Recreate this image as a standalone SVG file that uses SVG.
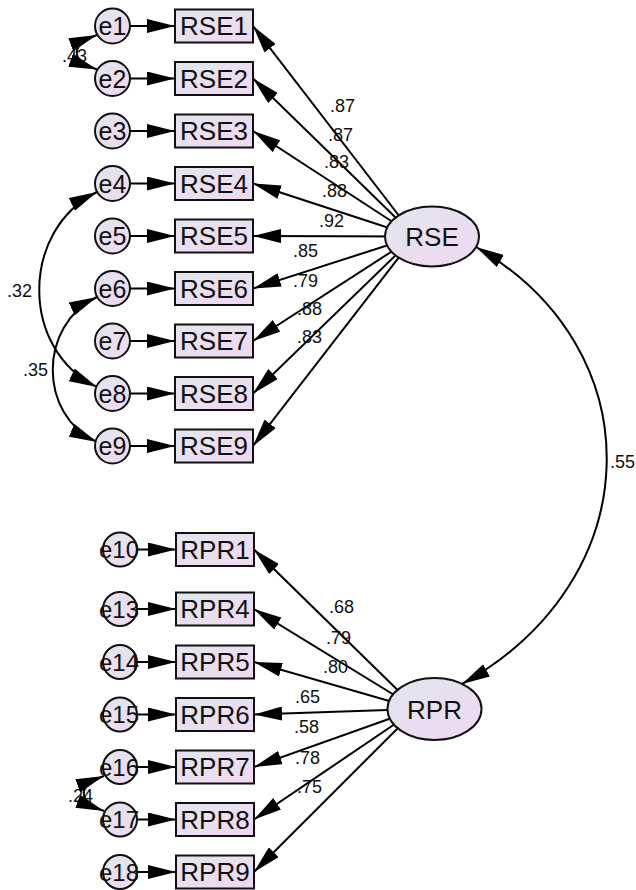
<svg xmlns="http://www.w3.org/2000/svg" width="636" height="890" viewBox="0 0 636 890">
<defs>
<linearGradient id="g" x1="0" y1="0" x2="1" y2="1">
<stop offset="0" stop-color="#e2e6ee"/>
<stop offset="1" stop-color="#f0d8f2"/>
</linearGradient>
<marker id="ah" markerUnits="userSpaceOnUse" markerWidth="28" markerHeight="14" refX="28" refY="7" orient="auto-start-reverse" viewBox="0 0 28 14">
<path d="M0,0 L28,7 L0,14 z" fill="#000"/>
</marker>
<style>
.n{fill:url(#g);stroke:#111;stroke-width:2}
.t{font-family:"Liberation Sans",Arial,sans-serif;font-size:26px;fill:#111;text-anchor:middle}
.te{font-family:"Liberation Sans",Arial,sans-serif;font-size:25px;fill:#111;text-anchor:middle}
.te2{font-family:"Liberation Sans",Arial,sans-serif;font-size:24px;fill:#111;text-anchor:middle}
.l{font-family:"Liberation Sans",Arial,sans-serif;font-size:18px;fill:#111}
.c{fill:none;stroke:#000;stroke-width:2;marker-end:url(#ah)}
.d{fill:none;stroke:#000;stroke-width:2;marker-start:url(#ah);marker-end:url(#ah)}
</style>
</defs>
<rect width="636" height="890" fill="#fff"/>
<g id="connectors">
<g id="labels">
<text class="l" x="62" y="62">.43</text>
<text class="l" x="68" y="802">.24</text>
<text class="l" x="7" y="297">.32</text>
<text class="l" x="23" y="376">.35</text>
<text class="l" x="610" y="468">.55</text>
<text class="l" x="330" y="112">.87</text>
<text class="l" x="328" y="141">.87</text>
<text class="l" x="324" y="168">.83</text>
<text class="l" x="322" y="197">.88</text>
<text class="l" x="319" y="227">.92</text>
<text class="l" x="293" y="257">.85</text>
<text class="l" x="293" y="287">.79</text>
<text class="l" x="297" y="315">.88</text>
<text class="l" x="297" y="343">.83</text>
<text class="l" x="329" y="613">.68</text>
<text class="l" x="326" y="644">.79</text>
<text class="l" x="323" y="673">.80</text>
<text class="l" x="295" y="703">.65</text>
<text class="l" x="294" y="733">.58</text>
<text class="l" x="295" y="764">.78</text>
<text class="l" x="297" y="793">.75</text>
</g>
<path class="c" d="M130,26 L175,26"/>
<path class="c" d="M130,78.5 L175,78.5"/>
<path class="c" d="M130,131 L175,131"/>
<path class="c" d="M130,183.5 L175,183.5"/>
<path class="c" d="M130,236 L175,236"/>
<path class="c" d="M130,288.5 L175,288.5"/>
<path class="c" d="M130,341 L175,341"/>
<path class="c" d="M130,393.5 L175,393.5"/>
<path class="c" d="M130,446 L175,446"/>
<path class="c" d="M137,549.5 L176,549.5"/>
<path class="c" d="M137,609 L176,609"/>
<path class="c" d="M137,662 L176,662"/>
<path class="c" d="M137,714.5 L176,714.5"/>
<path class="c" d="M137,767 L176,767"/>
<path class="c" d="M137,819.5 L176,819.5"/>
<path class="c" d="M137,872 L176,872"/>
<path class="c" d="M415,236.5 L253,26"/>
<path class="c" d="M415,236.5 L253,78.5"/>
<path class="c" d="M415,236.5 L253,131"/>
<path class="c" d="M415,236.5 L253,183.5"/>
<path class="c" d="M415,236.5 L253,236"/>
<path class="c" d="M415,236.5 L253,288.5"/>
<path class="c" d="M415,236.5 L253,341"/>
<path class="c" d="M415,236.5 L253,393.5"/>
<path class="c" d="M415,236.5 L253,446"/>
<path class="c" d="M417,709 L254,549.5"/>
<path class="c" d="M417,709 L254,609"/>
<path class="c" d="M417,709 L254,662"/>
<path class="c" d="M417,709 L254,714.5"/>
<path class="c" d="M417,709 L254,767"/>
<path class="c" d="M417,709 L254,819.5"/>
<path class="c" d="M417,709 L254,872"/>
<path class="d" d="M97,35 C70,45 70,60 97,69.5"/>
<path class="d" d="M104,776 C77,786 77,801 104,811"/>
<path class="d" d="M97,192 C20,230 20,350 97,387"/>
<path class="d" d="M97,297 C38,325 38,415 97,442"/>
<path class="d" d="M476,247 C655,350 650,580 462,684"/>
</g>
<g id="RSE"><ellipse class="n" cx="432" cy="236.5" rx="47" ry="30"/><text class="t" x="432" y="246">RSE</text></g>
<g id="RPR"><ellipse class="n" cx="434.5" cy="709" rx="47" ry="31"/><text class="t" x="434.5" y="718.5">RPR</text></g>
<g id="RSE1"><rect class="n" x="175" y="9.5" width="78" height="33"/><text class="t" x="214" y="35.3">RSE1</text></g>
<g id="RSE2"><rect class="n" x="175" y="62" width="78" height="33"/><text class="t" x="214" y="87.8">RSE2</text></g>
<g id="RSE3"><rect class="n" x="175" y="114.5" width="78" height="33"/><text class="t" x="214" y="140.3">RSE3</text></g>
<g id="RSE4"><rect class="n" x="175" y="167" width="78" height="33"/><text class="t" x="214" y="192.8">RSE4</text></g>
<g id="RSE5"><rect class="n" x="175" y="219.5" width="78" height="33"/><text class="t" x="214" y="245.3">RSE5</text></g>
<g id="RSE6"><rect class="n" x="175" y="272" width="78" height="33"/><text class="t" x="214" y="297.8">RSE6</text></g>
<g id="RSE7"><rect class="n" x="175" y="324.5" width="78" height="33"/><text class="t" x="214" y="350.3">RSE7</text></g>
<g id="RSE8"><rect class="n" x="175" y="377" width="78" height="33"/><text class="t" x="214" y="402.8">RSE8</text></g>
<g id="RSE9"><rect class="n" x="175" y="429.5" width="78" height="33"/><text class="t" x="214" y="455.3">RSE9</text></g>
<g id="RPR1"><rect class="n" x="176" y="533" width="78" height="33"/><text class="t" x="215" y="558.8">RPR1</text></g>
<g id="RPR4"><rect class="n" x="176" y="592.5" width="78" height="33"/><text class="t" x="215" y="618.3">RPR4</text></g>
<g id="RPR5"><rect class="n" x="176" y="645.5" width="78" height="33"/><text class="t" x="215" y="671.3">RPR5</text></g>
<g id="RPR6"><rect class="n" x="176" y="698" width="78" height="33"/><text class="t" x="215" y="723.8">RPR6</text></g>
<g id="RPR7"><rect class="n" x="176" y="750.5" width="78" height="33"/><text class="t" x="215" y="776.3">RPR7</text></g>
<g id="RPR8"><rect class="n" x="176" y="803" width="78" height="33"/><text class="t" x="215" y="828.8">RPR8</text></g>
<g id="RPR9"><rect class="n" x="176" y="855.5" width="78" height="33"/><text class="t" x="215" y="881.3">RPR9</text></g>
<g id="e1"><circle class="n" cx="112.5" cy="26" r="17.5"/><text class="te" x="112.5" y="35">e1</text></g>
<g id="e2"><circle class="n" cx="112.5" cy="78.5" r="17.5"/><text class="te" x="112.5" y="87.5">e2</text></g>
<g id="e3"><circle class="n" cx="112.5" cy="131" r="17.5"/><text class="te" x="112.5" y="140">e3</text></g>
<g id="e4"><circle class="n" cx="112.5" cy="183.5" r="17.5"/><text class="te" x="112.5" y="192.5">e4</text></g>
<g id="e5"><circle class="n" cx="112.5" cy="236" r="17.5"/><text class="te" x="112.5" y="245">e5</text></g>
<g id="e6"><circle class="n" cx="112.5" cy="288.5" r="17.5"/><text class="te" x="112.5" y="297.5">e6</text></g>
<g id="e7"><circle class="n" cx="112.5" cy="341" r="17.5"/><text class="te" x="112.5" y="350">e7</text></g>
<g id="e8"><circle class="n" cx="112.5" cy="393.5" r="17.5"/><text class="te" x="112.5" y="402.5">e8</text></g>
<g id="e9"><circle class="n" cx="112.5" cy="446" r="17.5"/><text class="te" x="112.5" y="455">e9</text></g>
<g id="e10"><circle class="n" cx="120" cy="549.5" r="17"/><text class="te2" x="119" y="558">e10</text></g>
<g id="e13"><circle class="n" cx="120" cy="609" r="17"/><text class="te2" x="119" y="617.5">e13</text></g>
<g id="e14"><circle class="n" cx="120" cy="662" r="17"/><text class="te2" x="119" y="670.5">e14</text></g>
<g id="e15"><circle class="n" cx="120" cy="714.5" r="17"/><text class="te2" x="119" y="723">e15</text></g>
<g id="e16"><circle class="n" cx="120" cy="767" r="17"/><text class="te2" x="119" y="775.5">e16</text></g>
<g id="e17"><circle class="n" cx="120" cy="819.5" r="17"/><text class="te2" x="119" y="828">e17</text></g>
<g id="e18"><circle class="n" cx="120" cy="872" r="17"/><text class="te2" x="119" y="880.5">e18</text></g>
</svg>
